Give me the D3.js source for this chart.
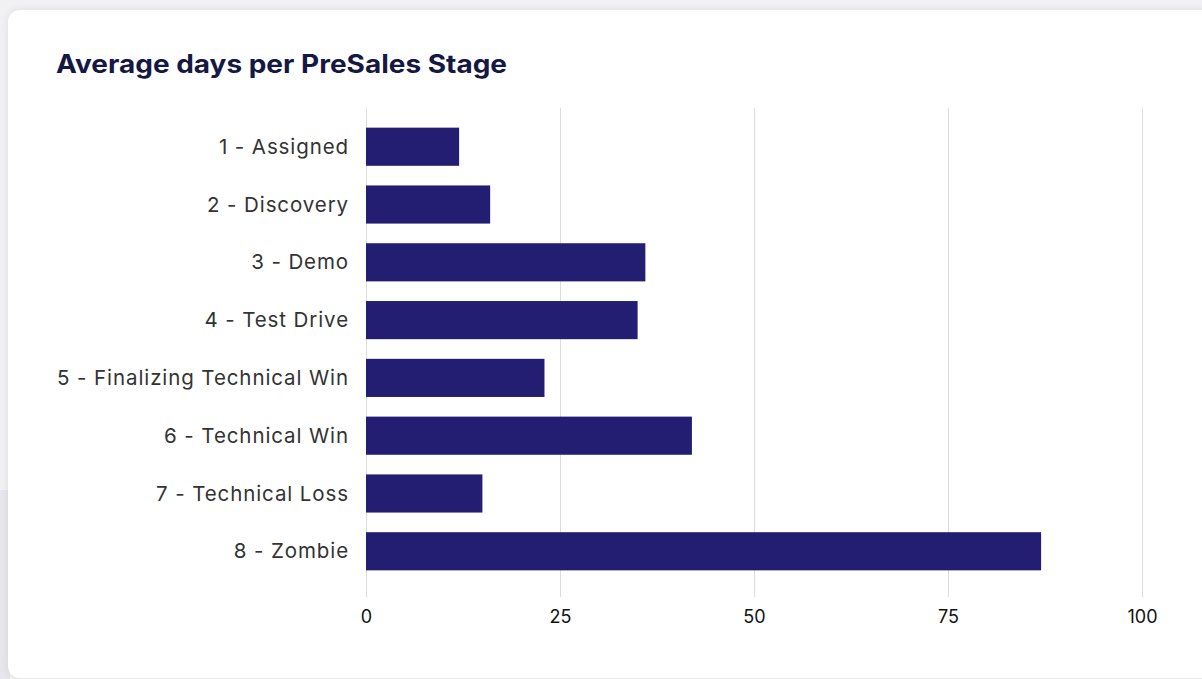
<!DOCTYPE html>
<html>
<head>
<meta charset="utf-8">
<script src="https://cdn.jsdelivr.net/npm/d3@7"></script>
<style>
  html, body { margin: 0; padding: 0; background: #f1f1f3; }
  body { width: 1202px; height: 679px; overflow: hidden; position: relative; }
  #strip { position: absolute; left: 0; top: 490px; width: 10px; height: 189px; background: #e6e6ec; }
  #card {
    position: absolute; left: 8px; top: 10px; width: 1210px; height: 668px;
    background: #fff; border-radius: 12px;
    box-shadow: 0 0 8px rgba(0,0,0,0.08);
  }
</style>
</head>
<body>
<div id="strip"></div>
<div id="card"></div>
<svg id="chart" width="1202" height="679" style="position:absolute;left:0;top:0"></svg>
<script>
// chart data
const stages = [
  "1 - Assigned",
  "2 - Discovery",
  "3 - Demo",
  "4 - Test Drive",
  "5 - Finalizing Technical Win",
  "6 - Technical Win",
  "7 - Technical Loss",
  "8 - Zombie"
];
const avgDays = [12, 16, 36, 35, 23, 42, 15, 87];
const xTicks = [0, 25, 50, 75, 100];

const svg = d3.select("#chart");
const fontFamily = "Inter, 'Open Sans', sans-serif";

// title
svg.append("text")
  .attr("x", 56)
  .attr("y", 73)
  .attr("font-family", fontFamily)
  .attr("font-weight", 700)
  .attr("font-size", 25)
  .attr("fill", "#151843")
  .attr("textLength", 451)
  .attr("lengthAdjust", "spacingAndGlyphs")
  .text("Average days per PreSales Stage");

// scales
const x = d3.scaleLinear().domain([0, 100]).range([366, 1142]);
const y = d3.scaleBand().domain(stages).range([108, 590])
  .paddingInner(0.34).paddingOuter(0.34);

// grid lines
svg.append("g")
  .selectAll("line")
  .data(xTicks)
  .enter().append("line")
  .attr("x1", d => x(d) + 0.5)
  .attr("x2", d => x(d) + 0.5)
  .attr("y1", 108)
  .attr("y2", 597)
  .attr("stroke", "#dcdcdc")
  .attr("stroke-width", 1);

// bars
svg.append("g")
  .selectAll("rect")
  .data(avgDays)
  .enter().append("rect")
  .attr("x", x(0))
  .attr("y", (d, i) => y(stages[i]))
  .attr("width", d => x(d) - x(0))
  .attr("height", y.bandwidth())
  .attr("fill", "#241e72");

// category labels
svg.append("g")
  .selectAll("text")
  .data(stages)
  .enter().append("text")
  .attr("x", 349)
  .attr("y", d => y(d) + y.bandwidth() / 2)
  .attr("dy", "0.35em")
  .attr("text-anchor", "end")
  .attr("font-family", fontFamily)
  .attr("font-size", 20.5)
  .attr("letter-spacing", 0.9)
  .attr("fill", "#333")
  .text(d => d);

// x axis labels
const xAxis = d3.axisBottom(x).tickValues(xTicks).tickSize(0).tickPadding(0);
const gx = svg.append("g").attr("transform", "translate(0,610)").call(xAxis);
gx.select(".domain").remove();
gx.selectAll("text")
  .attr("font-family", fontFamily)
  .attr("font-size", 18)
  .attr("fill", "#111");
</script>
</body>
</html>
